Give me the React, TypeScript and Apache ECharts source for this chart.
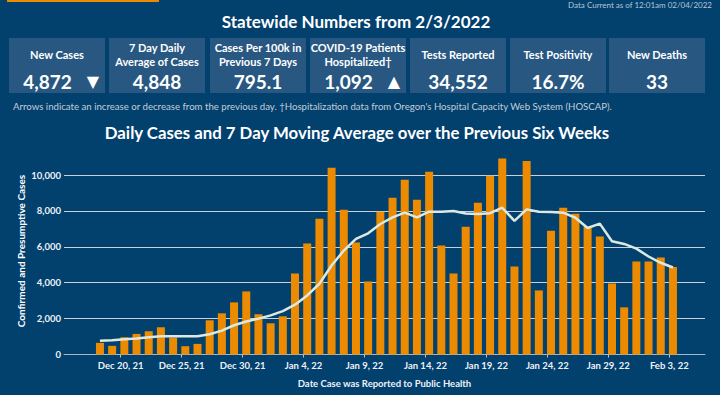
import { useEffect, useRef } from "react";
import * as echarts from "echarts";

const dateLabels = [
  "Dec 18, 21", "Dec 19, 21", "Dec 20, 21", "Dec 21, 21", "Dec 22, 21", "Dec 23, 21", "Dec 24, 21",
  "Dec 25, 21", "Dec 26, 21", "Dec 27, 21", "Dec 28, 21", "Dec 29, 21", "Dec 30, 21", "Dec 31, 21",
  "Jan 1, 22", "Jan 2, 22", "Jan 3, 22", "Jan 4, 22", "Jan 5, 22", "Jan 6, 22", "Jan 7, 22",
  "Jan 8, 22", "Jan 9, 22", "Jan 10, 22", "Jan 11, 22", "Jan 12, 22", "Jan 13, 22", "Jan 14, 22",
  "Jan 15, 22", "Jan 16, 22", "Jan 17, 22", "Jan 18, 22", "Jan 19, 22", "Jan 20, 22", "Jan 21, 22",
  "Jan 22, 22", "Jan 23, 22", "Jan 24, 22", "Jan 25, 22", "Jan 26, 22", "Jan 27, 22", "Jan 28, 22",
  "Jan 29, 22", "Jan 30, 22", "Jan 31, 22", "Feb 1, 22", "Feb 2, 22", "Feb 3, 22",
];

const dailyCases = [
  648, 481, 962, 1147, 1295, 1517, 944,
  462, 592, 1905, 2294, 2904, 3515, 2238,
  1739, 2127, 4514, 6179, 7566, 10397, 8066,
  6234, 4070, 7955, 8732, 9731, 8621, 10175,
  6068, 4514, 7122, 8454, 9953, 10915, 4902,
  10786, 3570, 6900, 8177, 7844, 7122, 6567,
  3959, 2627, 5180, 5180, 5402, 4872,
];

const movingAverage = [
  760, 795, 850, 890, 960, 1020, 1020,
  1020, 1020, 1130, 1330, 1630, 1840, 2000,
  2180, 2420, 2775, 3290, 3940, 4960, 5790,
  6440, 6750, 7270, 7640, 7900, 7640, 7955,
  7955, 7990, 7860, 7830, 7870, 8177, 7440,
  8085, 7955, 7937, 7900, 7620, 7050, 7290,
  6310, 6160, 5900, 5460, 5110, 4848,
];

const tickDates = [
  "Dec 20, 21", "Dec 25, 21", "Dec 30, 21", "Jan 4, 22", "Jan 9, 22",
  "Jan 14, 22", "Jan 19, 22", "Jan 24, 22", "Jan 29, 22", "Feb 3, 22",
];

const yMax = 10000;
const yStep = 2000;

const kpiTitles = [
  "New Cases",
  "7 Day Daily\nAverage of Cases",
  "Cases Per 100k in\nPrevious 7 Days",
  "COVID-19 Patients\nHospitalized†",
  "Tests Reported",
  "Test Positivity",
  "New Deaths",
];
const kpiValues = ["4,872", "4,848", "795.1", "1,092", "34,552", "16.7%", "33"];
const kpiArrows = ["▼", "", "", "▲", "", "", ""];

const BG = "#02406E";
const BOX = "#285882";
const ORANGE = "#EC8B00";
const FONT = "Lato";

function txt(x: number, y: number, text: string, size: number, opts: any = {}) {
  return {
    type: "text",
    x,
    y,
    rotation: opts.rotation || 0,
    style: {
      text,
      fill: opts.fill || "#ffffff",
      fontSize: size,
      fontWeight: opts.weight || "bold",
      fontFamily: opts.family || FONT,
      align: opts.align || "center",
      textAlign: opts.align || "center",
      verticalAlign: "middle",
      textVerticalAlign: "middle",
      lineHeight: opts.lineHeight || size * 1.2,
    },
  };
}

export default function App() {
  const ref = useRef<HTMLDivElement>(null);

  useEffect(() => {
    if (!ref.current) return;
    const chart = echarts.init(ref.current, undefined, { renderer: "svg" });

    const boxXs = [9, 109, 210, 310, 410, 510, 609];
    const graphics: any[] = [
      { type: "rect", shape: { x: 7, y: 0, width: 152, height: 2 }, style: { fill: ORANGE } },
      txt(712, 5, "Data Current as of 12:01am 02/04/2022", 8, { align: "right", weight: "normal", fill: "#b9c6d3" }),
      txt(356, 21, "Statewide Numbers from 2/3/2022", 17),
    ];
    boxXs.forEach((bx, i) => {
      graphics.push({ type: "rect", shape: { x: bx, y: 38, width: 96, height: 55 }, style: { fill: BOX } });
      graphics.push(txt(bx + 48, 54.5, kpiTitles[i], 11, { lineHeight: 13.5 }));
      const hasArrow = kpiArrows[i] !== "";
      graphics.push(txt(hasArrow ? bx + 38.5 : bx + 48, 81.5, kpiValues[i], 19));
      if (hasArrow) graphics.push(txt(bx + 84, 81.5, kpiArrows[i], 16, { weight: "normal", family: "DejaVu Sans" }));
    });
    graphics.push(
      txt(13, 106, "Arrows indicate an increase or decrease from the previous day. †Hospitalization data from Oregon's Hospital Capacity Web System (HOSCAP).", 9.65, { align: "left", weight: "normal", fill: "#c3cdd8" }),
      txt(357, 132, "Daily Cases and 7 Day Moving Average over the Previous Six Weeks", 16.8),
      txt(21, 251, "Confirmed and Presumptive Cases", 10, { rotation: Math.PI / 2 })
    );

    const tickIdx = tickDates.map((d) => dateLabels.indexOf(d) - 0.3);

    chart.setOption({
      animation: false,
      backgroundColor: BG,
      graphic: graphics,
      grid: { left: 64, right: 15, top: 175, bottom: 40.5, containLabel: false },
      xAxis: {
        type: "value",
        min: -2.95,
        max: 49.63,
        splitLine: { show: false },
        axisLine: { show: true, lineStyle: { color: "#9fb1c3", type: "dotted", width: 1 } },
        axisTick: { show: true, customValues: tickIdx, length: 3, lineStyle: { color: "#b8c5d2" } },
        axisLabel: {
          customValues: tickIdx,
          formatter: (v: number) => dateLabels[Math.round(v)] || "",
          color: "#eef2f6",
          fontFamily: FONT,
          fontWeight: "bold",
          fontSize: 9.5,
          margin: 6,
        },
        name: "Date Case was Reported to Public Health",
        nameLocation: "middle",
        nameGap: 24,
        nameTextStyle: { color: "#eef2f6", fontFamily: FONT, fontWeight: "bold", fontSize: 9.5 },
      },
      yAxis: {
        type: "value",
        min: 0,
        max: yMax,
        interval: yStep,
        axisLine: { show: false },
        axisTick: { show: false },
        splitLine: { lineStyle: { color: "#c9d0d8", width: 1 } },
        axisLabel: {
          formatter: (v: number) => v.toLocaleString("en-US"),
          color: "#eef2f6",
          fontFamily: FONT,
          fontWeight: "bold",
          fontSize: 9.5,
          margin: 3,
        },
      },
      series: [
        {
          type: "bar",
          data: dailyCases.map((v, i) => [i, v]),
          barWidth: 8,
          clip: false,
          itemStyle: { color: ORANGE },
        },
        {
          type: "line",
          data: movingAverage.map((v, i) => [i, v]),
          clip: false,
          symbol: "none",
          lineStyle: { color: "#dce9e3", width: 2.5 },
        },
      ],
    });
    return () => chart.dispose();
  }, []);

  return (
    <div
      ref={ref}
      style={{ position: "fixed", left: 0, top: 0, width: 720, height: 395, background: BG }}
    />
  );
}
